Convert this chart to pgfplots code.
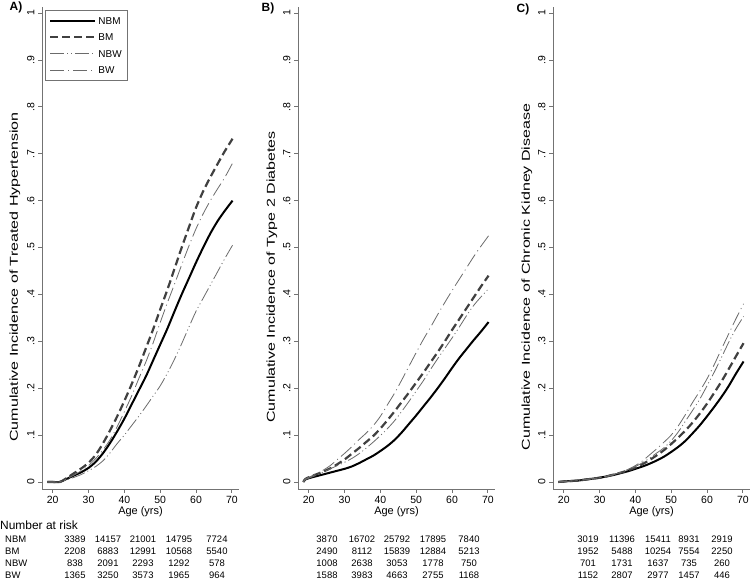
\documentclass[border=0pt]{standalone}
\usepackage{pgfplots}
\pgfplotsset{compat=1.18}
\usepackage{fontspec}
\setmainfont{Liberation Sans}
\definecolor{axgray}{gray}{0.45}
\definecolor{bmgray}{gray}{0.25}
\definecolor{wgray}{gray}{0.42}
\pgfplotsset{
  km/.style={
    scale only axis, width=197bp, height=482bp,
    xmin=17, xmax=72, ymin=-0.015, ymax=1.013,
    axis lines=left,
    axis line style={-, draw=axgray, line width=0.8bp},
    tick style={draw=axgray, line width=0.8bp},
    tick align=outside, major tick length=4bp,
    /pgf/number format/assume math mode=true,
    xtick={20,30,40,50,60,70},
    ytick={0,0.1,0.2,0.3,0.4,0.5,0.6,0.7,0.8,0.9,1},
    yticklabels={0,.1,.2,.3,.4,.5,.6,.7,.8,.9,1},
    yticklabel style={rotate=90, anchor=south, font=\fontsize{10.5}{12}\selectfont},
    xticklabel style={font=\fontsize{10.5}{12}\selectfont},
    xlabel={Age (yrs)},
    every axis x label/.style={at={(axis description cs:0.5,0)}, anchor=center, yshift=-23bp, font=\fontsize{11}{13}\selectfont},
    clip=false,
  },
  nbm/.style={black, line width=2bp, smooth, tension=0.5},
  bm/.style={bmgray, line width=2.2bp, dash pattern=on 8bp off 4bp, smooth, tension=0.5},
  nbw/.style={wgray, line width=0.8bp, dash pattern=on 14bp off 3bp on 1bp off 3bp on 1bp off 3bp, smooth, tension=0.5},
  bw/.style={wgray, line width=0.8bp, dash pattern=on 14bp off 4bp on 1bp off 4bp, smooth, tension=0.5},
}
\begin{document}
\begin{tikzpicture}
\path[use as bounding box] (0,0) rectangle (750bp,580bp);
% ---------------- Panel A ----------------
\begin{axis}[km, at={(42bp,91bp)}, anchor=south west,
  legend style={at={(axis description cs:0.0152,0.9938)}, anchor=north west,
    draw=axgray, line width=0.6bp, fill=white, font=\fontsize{10}{12}\selectfont,
    legend cell align=left, row sep=3.5bp, inner xsep=4bp, inner ysep=4bp,
    nodes={text height=8bp, text depth=1bp}},
  legend image code/.code={\draw[#1, line cap=butt] (0bp,0bp) -- (37bp,0bp); \path (0bp,0bp) -- (45bp,0bp);},
]
\addplot[nbm] coordinates {(18.5,0) (20,0) (22,0) (24,0.007) (26,0.014) (28,0.021) (30,0.03) (32,0.043) (34,0.061) (36,0.083) (38,0.108) (40,0.135) (42,0.165) (44,0.195) (46,0.225) (48,0.259) (50,0.293) (52,0.327) (54,0.364) (56,0.4) (58,0.434) (60,0.468) (62,0.5) (64,0.53) (66,0.556) (68,0.578) (70.2,0.6)};
\addlegendentry{NBM}
\addplot[bm] coordinates {(18.5,0) (20,0) (22,0) (24,0.009) (26,0.019) (28,0.029) (30,0.041) (32,0.058) (34,0.082) (36,0.11) (38,0.14) (40,0.173) (42,0.208) (44,0.245) (46,0.285) (48,0.325) (50,0.368) (52,0.41) (54,0.455) (56,0.5) (58,0.543) (60,0.585) (62,0.62) (64,0.65) (66,0.678) (68,0.705) (70.2,0.732)};
\addlegendentry{BM}
\addplot[nbw] coordinates {(18.5,0) (20,0) (22,0) (24,0.005) (26,0.01) (28,0.016) (30,0.024) (32,0.033) (34,0.045) (36,0.062) (38,0.082) (40,0.1) (42,0.12) (44,0.14) (46,0.161) (48,0.183) (50,0.205) (52,0.232) (54,0.262) (56,0.295) (58,0.33) (60,0.364) (62,0.392) (64,0.42) (66,0.448) (68,0.476) (70.2,0.505)};
\addlegendentry{NBW}
\addplot[bw] coordinates {(18.5,0) (20,0) (22,0) (24,0.007) (26,0.015) (28,0.024) (30,0.035) (32,0.05) (34,0.068) (36,0.09) (38,0.118) (40,0.15) (42,0.183) (44,0.22) (46,0.256) (48,0.296) (50,0.34) (52,0.382) (54,0.422) (56,0.463) (58,0.503) (60,0.54) (62,0.572) (64,0.6) (66,0.625) (68,0.649) (70.2,0.68)};
\addlegendentry{BW}
\end{axis}
% ---------------- Panel B ----------------
\begin{axis}[km, at={(298bp,91bp)}, anchor=south west]
\addplot[nbm] coordinates {(18.5,0) (19,0.005) (20,0.008) (22,0.012) (24,0.016) (26,0.02) (28,0.024) (30,0.028) (32,0.033) (34,0.04) (36,0.048) (38,0.056) (40,0.066) (42,0.077) (44,0.09) (46,0.106) (48,0.124) (50,0.142) (52,0.161) (54,0.18) (56,0.2) (58,0.221) (60,0.243) (62,0.264) (64,0.283) (66,0.302) (68,0.32) (70.2,0.341)};
\addplot[bm] coordinates {(18.5,0) (19,0.006) (20,0.01) (22,0.016) (24,0.022) (26,0.029) (28,0.038) (30,0.048) (32,0.06) (34,0.072) (36,0.085) (38,0.098) (40,0.114) (42,0.132) (44,0.151) (46,0.171) (48,0.191) (50,0.212) (52,0.233) (54,0.255) (56,0.277) (58,0.3) (60,0.324) (62,0.347) (64,0.37) (66,0.393) (68,0.416) (70.2,0.44)};
\addplot[nbw] coordinates {(18.5,0) (19,0.005) (20,0.008) (22,0.014) (24,0.021) (26,0.028) (28,0.035) (30,0.042) (32,0.05) (34,0.06) (36,0.072) (38,0.085) (40,0.099) (42,0.114) (44,0.131) (46,0.151) (48,0.172) (50,0.194) (52,0.216) (54,0.24) (56,0.263) (58,0.285) (60,0.307) (62,0.33) (64,0.354) (66,0.376) (68,0.394) (70.2,0.412)};
\addplot[bw] coordinates {(18.5,0) (19,0.006) (20,0.01) (22,0.017) (24,0.025) (26,0.035) (28,0.048) (30,0.061) (32,0.075) (34,0.09) (36,0.104) (38,0.12) (40,0.14) (42,0.165) (44,0.19) (46,0.218) (48,0.247) (50,0.276) (52,0.304) (54,0.33) (56,0.357) (58,0.383) (60,0.408) (62,0.432) (64,0.456) (66,0.48) (68,0.502) (70.2,0.525)};
\end{axis}
% ---------------- Panel C ----------------
\begin{axis}[km, at={(553bp,91bp)}, anchor=south west]
\addplot[nbm] coordinates {(18.5,0) (20,0.001) (22,0.002) (24,0.003) (26,0.005) (28,0.007) (30,0.009) (32,0.012) (34,0.015) (36,0.019) (38,0.023) (40,0.028) (42,0.033) (44,0.039) (46,0.046) (48,0.054) (50,0.064) (52,0.075) (54,0.088) (56,0.104) (58,0.121) (60,0.14) (62,0.16) (64,0.181) (66,0.204) (68,0.23) (70.2,0.257)};
\addplot[bm] coordinates {(18.5,0) (20,0.001) (22,0.002) (24,0.003) (26,0.005) (28,0.007) (30,0.009) (32,0.012) (34,0.016) (36,0.02) (38,0.025) (40,0.031) (42,0.038) (44,0.047) (46,0.057) (48,0.068) (50,0.081) (52,0.095) (54,0.11) (56,0.127) (58,0.146) (60,0.167) (62,0.19) (64,0.214) (66,0.24) (68,0.267) (70.2,0.296)};
\addplot[nbw] coordinates {(18.5,0) (20,0.001) (22,0.002) (24,0.003) (26,0.005) (28,0.007) (30,0.009) (32,0.012) (34,0.016) (36,0.021) (38,0.026) (40,0.033) (42,0.041) (44,0.051) (46,0.062) (48,0.073) (50,0.088) (52,0.107) (54,0.13) (56,0.153) (58,0.177) (60,0.205) (62,0.234) (64,0.265) (66,0.297) (68,0.326) (70.2,0.353)};
\addplot[bw] coordinates {(18.5,0) (20,0.001) (22,0.002) (24,0.003) (26,0.005) (28,0.007) (30,0.009) (32,0.012) (34,0.016) (36,0.021) (38,0.027) (40,0.035) (42,0.045) (44,0.058) (46,0.071) (48,0.085) (50,0.1) (52,0.12) (54,0.144) (56,0.17) (58,0.194) (60,0.22) (62,0.25) (64,0.283) (66,0.315) (68,0.347) (70.2,0.38)};
\end{axis}
% ---------------- Y-axis titles ----------------
\node[rotate=90, font=\fontsize{11.5}{13}\selectfont] at (15bp,303bp) {\scalebox{1.4}[1]{Cumulative Incidence of Treated Hypertension}};
\node[rotate=90, font=\fontsize{11.5}{13}\selectfont] at (272bp,303bp) {\scalebox{1.4}[1]{Cumulative Incidence of Type 2 Diabetes}};
\node[rotate=90, font=\fontsize{11.5}{13}\selectfont] at (527bp,303bp) {\scalebox{1.4}[1]{Cumulative Incidence of Chronic Kidney Disease}};
% ---------------- Panel letters ----------------
\node[font=\bfseries\fontsize{12}{14}\selectfont] at (16bp,573bp) {A)};
\node[font=\bfseries\fontsize{12}{14}\selectfont] at (268bp,572bp) {B)};
\node[font=\bfseries\fontsize{12}{14}\selectfont] at (523bp,571bp) {C)};
% ---------------- Number at risk ----------------
\node[anchor=west, inner sep=0pt, font=\fontsize{12}{14}\selectfont] at (0bp,55bp) {Number at risk};
\begin{scope}[every node/.style={inner sep=0pt, text height=7bp, text depth=0pt, font=\fontsize{9.5}{11}\selectfont}]
\node[anchor=west] at (5bp,40.7bp) {NBM};
\node[anchor=west] at (5bp,29bp) {BM};
\node[anchor=west] at (5bp,16.7bp) {NBW};
\node[anchor=west] at (5bp,5bp) {BW};
% Panel A
\node at (75bp,40.7bp) {3389};  \node at (108bp,40.7bp) {14157}; \node at (143bp,40.7bp) {21001}; \node at (179bp,40.7bp) {14795}; \node at (217bp,40.7bp) {7724};
\node at (75bp,29bp) {2208};    \node at (108bp,29bp) {6883};    \node at (143bp,29bp) {12991};   \node at (179bp,29bp) {10568};   \node at (217bp,29bp) {5540};
\node at (75bp,16.7bp) {838};   \node at (108bp,16.7bp) {2091};  \node at (143bp,16.7bp) {2293};  \node at (179bp,16.7bp) {1292};  \node at (217bp,16.7bp) {578};
\node at (75bp,5bp) {1365};     \node at (108bp,5bp) {3250};     \node at (143bp,5bp) {3573};     \node at (179bp,5bp) {1965};     \node at (217bp,5bp) {964};
% Panel B
\node at (327bp,40.7bp) {3870};  \node at (362bp,40.7bp) {16702}; \node at (397bp,40.7bp) {25792}; \node at (433bp,40.7bp) {17895}; \node at (469bp,40.7bp) {7840};
\node at (327bp,29bp) {2490};    \node at (362bp,29bp) {8112};    \node at (397bp,29bp) {15839};   \node at (433bp,29bp) {12884};   \node at (469bp,29bp) {5213};
\node at (327bp,16.7bp) {1008};  \node at (362bp,16.7bp) {2638};  \node at (397bp,16.7bp) {3053};  \node at (433bp,16.7bp) {1778};  \node at (469bp,16.7bp) {750};
\node at (327bp,5bp) {1588};     \node at (362bp,5bp) {3983};     \node at (397bp,5bp) {4663};     \node at (433bp,5bp) {2755};     \node at (469bp,5bp) {1168};
% Panel C
\node at (588bp,40.7bp) {3019};  \node at (622bp,40.7bp) {11396}; \node at (658bp,40.7bp) {15411}; \node at (689bp,40.7bp) {8931};  \node at (722bp,40.7bp) {2919};
\node at (588bp,29bp) {1952};    \node at (622bp,29bp) {5488};    \node at (658bp,29bp) {10254};   \node at (689bp,29bp) {7554};    \node at (722bp,29bp) {2250};
\node at (588bp,16.7bp) {701};   \node at (622bp,16.7bp) {1731};  \node at (658bp,16.7bp) {1637};  \node at (689bp,16.7bp) {735};   \node at (722bp,16.7bp) {260};
\node at (588bp,5bp) {1152};     \node at (622bp,5bp) {2807};     \node at (658bp,5bp) {2977};     \node at (689bp,5bp) {1457};    \node at (722bp,5bp) {446};
\end{scope}
\end{tikzpicture}
\end{document}
